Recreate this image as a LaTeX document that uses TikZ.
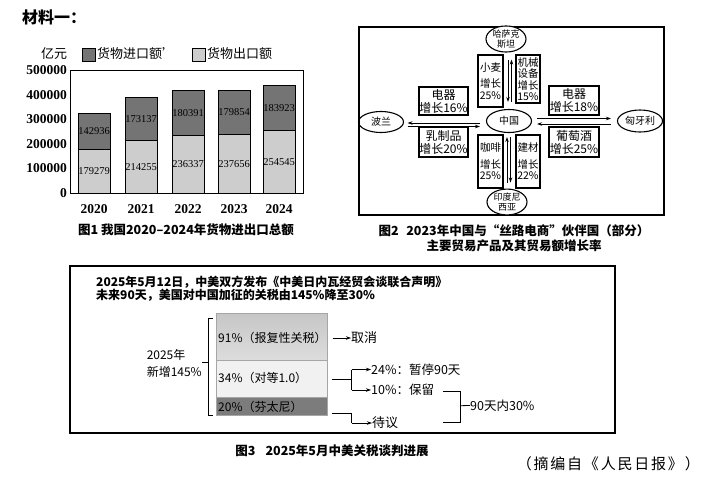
\documentclass[tikz,border=0pt]{standalone}
\usepackage{fontspec}
\setmainfont{Noto Sans CJK SC}
\newfontfamily\numf{Liberation Serif}
\newfontfamily\widef[LetterSpace=12]{Noto Sans CJK SC}
\usetikzlibrary{arrows.meta,shapes.geometric}
\definecolor{impc}{HTML}{747474}
\definecolor{expc}{HTML}{CDCDCD}
\definecolor{seg1t}{HTML}{C6C6C6}
\definecolor{seg1b}{HTML}{DDDDDD}
\definecolor{seg2}{HTML}{F1F1F1}
\definecolor{seg3}{HTML}{7C7C7C}
\tikzset{
  txt/.style={inner sep=0pt, anchor=west},
  ylab/.style={inner sep=0pt, font=\numf\bfseries\fontsize{13.5}{14}\selectfont},
  val/.style={inner sep=0pt, font=\numf\fontsize{10.5}{11}\selectfont},
  ell/.style={ellipse, draw, line width=1.1pt, inner sep=0pt, align=center, font=\fontsize{9}{10}\selectfont},
  gbox/.style={draw, line width=1.1pt, inner sep=0pt, align=center, font=\fontsize{12}{13}\selectfont},
  tbox/.style={draw, line width=1.1pt, inner sep=0pt, align=center, font=\fontsize{10.5}{11.5}\selectfont, minimum width=25pt},
  arr/.style={line width=0.8pt, -{Stealth[length=5pt,width=3.5pt]}},
  tarr/.style={line width=0.8pt, -{Stealth[length=5pt,width=3.5pt]}},
  ln/.style={line width=0.8pt},
  capt/.style={inner sep=0pt, font=\bfseries\fontsize{12.5}{15}\selectfont, align=center},
  seg/.style={draw=gray!70, line width=0.6pt, inner sep=0pt, minimum width=111pt, anchor=north west},
  f3/.style={inner sep=0pt, anchor=west, font=\fontsize{12}{14}\selectfont},
}
\begin{document}
\begin{tikzpicture}[x=1pt,y=-1pt]
\useasboundingbox (0,0) rectangle (702,485);
\fill[white] (0,0) rectangle (702,485);

% ---------- title ----------
\node[txt, font=\bfseries\fontsize{16}{16}\selectfont] (title) at (22,17) {材料一：};

% ---------- Figure 1 ----------
\node[txt, font=\fontsize{13}{13}\selectfont] (unit) at (41,54) {亿元};
\node[draw, fill=impc, minimum width=13pt, minimum height=13pt, inner sep=0pt] (lgi) at (88.5,55) {};
\node[txt, font=\fontsize{13}{13}\selectfont] (lgit) at (97,54) {货物进口额'};
\node[draw, fill=expc, minimum width=13pt, minimum height=13pt, inner sep=0pt] (lge) at (198.5,55) {};
\node[txt, font=\fontsize{13}{13}\selectfont] (lget) at (207,54) {货物出口额};

\foreach \x/\e/\i/\el/\il in {94/17.9279/14.2936/179279/142936, 141/21.4255/17.3137/214255/173137, 188/23.6337/18.0391/236337/180391, 234/23.7656/17.9854/237656/179854, 279/25.4545/18.3923/254545/183923}{
  \pgfmathsetmacro\ye{193-\e*2.46}
  \pgfmathsetmacro\yt{193-(\e+\i)*2.46}
  \fill[expc] (\x-16,193) rectangle (\x+16,\ye);
  \fill[impc] (\x-16,\ye) rectangle (\x+16,\yt);
  \draw[line width=0.7pt] (\x-16,193) -- (\x-16,\yt) -- (\x+16,\yt) -- (\x+16,193);
  \draw[line width=0.7pt] (\x-16,\ye) -- (\x+16,\ye);
  \node[val] (e\el) at (\x,{(193+\ye)/2}) {\el};
  \node[val] (i\il) at (\x,{(\ye+\yt)/2}) {\il};
}
\draw[line width=0.9pt] (70,70) rectangle (303,193);
\foreach \v/\t in {0/0,1/100000,2/200000,3/300000,4/400000,5/500000}{
  \node[ylab, anchor=east] (yl\v) at (67,{193-\v*24.6}) {\t};
}
\foreach \x/\yr in {94/2020,141/2021,188/2022,234/2023,279/2024}{
  \node[ylab] (yr\yr) at (\x,209) {\yr};
}
\node[capt] (cap1) at (186,230) {图1 我国2020–2024年货物进出口总额};

% ---------- Figure 2 ----------
\draw[line width=1.1pt] (359,27) rectangle (664,215);
\node[ell, fill=white, minimum width=40pt, minimum height=22pt] (kz) at (506,39) {哈萨克\\斯坦};
\node[ell, minimum width=45pt, minimum height=23pt, font=\fontsize{10}{11}\selectfont] (cn) at (509,121) {中国};
\node[ell, minimum width=45pt, minimum height=21pt, font=\fontsize{10}{11}\selectfont] (pl) at (381,122) {波兰};
\node[ell, minimum width=45pt, minimum height=22pt, font=\fontsize{10}{11}\selectfont] (hu) at (640,121) {匈牙利};
\node[ell, fill=white, minimum width=40pt, minimum height=22pt] (id) at (507,202) {印度尼\\西亚};

\node[gbox, minimum width=49pt, minimum height=28pt] (b16) at (443.5,101) {电器\\增长16\%};
\node[gbox, minimum width=49pt, minimum height=30pt] (b20) at (443.5,142) {乳制品\\增长20\%};
\node[gbox, minimum width=50pt, minimum height=29pt] (b18) at (574,100.5) {电器\\增长18\%};
\node[gbox, minimum width=50pt, minimum height=30pt] (b25w) at (574,142) {葡萄酒\\增长25\%};

\node[tbox, minimum height=52pt] (bwh) at (490.5,81) {小麦\\[5pt]增长\\25\%};
\node[tbox, minimum width=24pt, minimum height=48pt] (bma) at (528,79) {机械\\设备\\增长\\15\%};
\node[tbox, minimum height=53pt] (bco) at (490.5,161.5) {咖啡\\[5pt]增长\\25\%};
\node[tbox, minimum width=24pt, minimum height=53pt] (bbm) at (528,161.5) {建材\\[5pt]增长\\22\%};

\coordinate (vx1) at (508,0);
\coordinate (vx2) at (511.5,0);
\coordinate (vx3) at (507,0);
\coordinate (vx4) at (510.5,0);
\coordinate (hy1) at (0,123);
\coordinate (hy2) at (0,126.5);
\coordinate (hy3) at (0,118.5);
\coordinate (hy4) at (0,124);
\draw[arr, shorten <=7pt, shorten >=7pt] (kz.south -| vx1) -- (cn.north -| vx1);
\draw[arr, shorten <=7pt, shorten >=7pt] (cn.north -| vx2) -- (kz.south -| vx2);
\draw[arr, shorten <=6pt, shorten >=4pt] (id.north -| vx3) -- (cn.south -| vx3);
\draw[arr, shorten <=4pt, shorten >=6pt] (cn.south -| vx4) -- (id.north -| vx4);
\draw[arr, shorten <=6pt, shorten >=3.5pt] (cn.west |- hy1) -- (pl.east |- hy1);
\draw[arr, shorten <=3.5pt, shorten >=6pt] (pl.east |- hy2) -- (cn.west |- hy2);
\draw[arr, shorten <=5pt, shorten >=6pt] (cn.east |- hy3) -- (hu.west |- hy3);
\draw[arr, shorten <=6pt, shorten >=5pt] (hu.west |- hy4) -- (cn.east |- hy4);

\node[capt] (cap2) at (514,238.5) {图2\hspace{0.6em}2023年中国与“丝路电商”伙伴国（部分）\\主要贸易产品及其贸易额增长率};

% ---------- Figure 3 ----------
\draw[line width=1.1pt] (70,266) rectangle (615,433);
\node[f3, font=\bfseries\fontsize{12}{14}\selectfont] (l1) at (96,282) {2025年5月12日，中美双方发布《中美日内瓦经贸会谈联合声明》};
\node[f3, font=\bfseries\fontsize{12}{14}\selectfont] (l2) at (96,295.5) {未来90天，美国对中国加征的关税由145\%降至30\%};

\node[seg, minimum height=47pt, top color=seg1t, bottom color=seg1b] (s91) at (216,313) {};
\node[seg, minimum height=37pt, fill=seg2] (s34) at (216,360) {};
\node[seg, minimum height=18pt, fill=seg3] (s20) at (216,397) {};
\node[f3] (t91) at (218,338) {91\%（报复性关税）};
\node[f3] (t34) at (218,378) {34\%（对等1.0）};
\node[f3] (t20) at (218,407) {20\%（芬太尼）};

\draw[ln] (213,318) -- (208.3,318) -- (208.3,415) -- (213,415);
\draw[ln] (208.3,362) -- (201.7,362);
\node[inner sep=0pt, font=\fontsize{12}{17}\selectfont, align=left, anchor=east] (y25) at (202,363.5) {2025年\\新增145\%};

\node[f3, font=\fontsize{13}{14}\selectfont] (qx) at (351,338) {取消};
\node[f3, font=\fontsize{12.5}{14}\selectfont] (t24) at (371,369.5) {24\%：暂停90天};
\node[f3, font=\fontsize{12.5}{14}\selectfont] (t10) at (371,390) {10\%：保留};
\node[f3, font=\fontsize{13}{14}\selectfont] (dy) at (372,423) {待议};
\node[f3, font=\fontsize{12.5}{14}\selectfont] (t30) at (470,405.5) {90天内30\%};

\coordinate (j1) at (351.7,379);
\coordinate (j2) at (351.5,413.3);
\draw[tarr] ([xshift=5pt]s91.east |- t91.west) -- (qx.west);
\draw[ln] ([xshift=4pt]s34.east |- j1) -- (j1);
\draw[tarr] (j1 |- t24.west) -- (t24.west);
\draw[tarr] (j1 |- t10.west) -- (t10.west);
\draw[ln] (j1 |- t24.west) -- (j1 |- t10.west);
\draw[ln] ([xshift=4pt]s20.east |- j2) -- (j2) -- (j2 |- dy.west);
\draw[tarr] (j2 |- dy.west) -- (dy.west);
\draw[ln] (442.7,391) -- (460,391) -- (460,422.3) -- (442.7,422.3);
\draw[ln] (460,405.7) -- (t30.west);

\node[capt] (cap3) at (332,451) {图3\hspace{0.8em}2025年5月中美关税谈判进展};

\node[inner sep=0pt, anchor=east, font=\widef\fontsize{15}{16}\selectfont] (src) at (700,464) {（摘编自《人民日报》）};
\end{tikzpicture}
\end{document}
